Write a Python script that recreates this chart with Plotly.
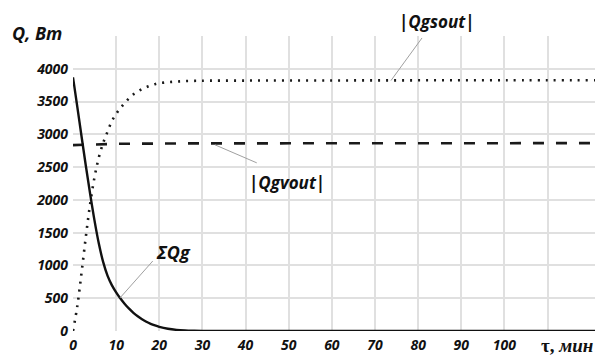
import plotly.graph_objects as go

# time, minutes
t = [0, 1, 2, 3, 4, 5, 6, 7, 8, 9, 10, 11, 12, 13, 14, 15, 16, 17, 18, 19, 20,
     22, 24, 26, 28, 30, 40, 60, 80, 100, 121]

# total heat flow ΣQg, W
sum_qg = [3870, 3420, 2960, 2510, 2080, 1680, 1330, 1050, 845, 700, 590, 495, 412,
          340, 278, 225, 180, 142, 110, 84, 63, 34, 17, 8, 3, 0, 0, 0, 0, 0, 0]

# |Qgsout|, W
qgsout = [0, 380, 900, 1450, 1950, 2350, 2650, 2870, 3040, 3200, 3310, 3400, 3480,
          3550, 3610, 3650, 3690, 3720, 3745, 3765, 3780, 3795, 3805, 3812, 3816,
          3818, 3820, 3822, 3824, 3825, 3826]

# |Qgvout|, W
qgvout = [2835, 2838, 2841, 2844, 2846, 2848, 2850, 2852, 2853, 2854, 2855, 2856, 2857,
          2858, 2858, 2859, 2859, 2860, 2860, 2860, 2861, 2861, 2861, 2862, 2862,
          2862, 2863, 2864, 2865, 2866, 2866]

x_ticks = [0, 10, 20, 30, 40, 50, 60, 70, 80, 90, 100, 110]
x_labels = ["0", "10", "20", "30", "40", "50", "60", "70", "80", "90", "100", ""]
y_ticks = [0, 500, 1000, 1500, 2000, 2500, 3000, 3500, 4000, 4500]
y_labels = ["0", "500", "1000", "1500", "2000", "2500", "3000", "3500", "4000", ""]

# leader lines: (x0, y0) on the curve, (x1, y1) towards the label
leaders = [
    (73.7, 3820, 80.9, 4470),
    (32.9, 2840, 42.6, 2565),
    (10.9, 505, 18.5, 1068),
]

fig = go.Figure()
fig.add_trace(go.Scatter(x=t, y=qgsout, mode="lines", line_shape="spline",
                         line=dict(color="#1a1a1a", width=2.6, dash="2px,6px")))
fig.add_trace(go.Scatter(x=t, y=qgvout, mode="lines",
                         line=dict(color="#1a1a1a", width=2.6, dash="11px,12px")))
fig.add_trace(go.Scatter(x=t, y=sum_qg, mode="lines", line_shape="spline",
                         line=dict(color="#111111", width=2.4)))

for x0, y0, x1, y1 in leaders:
    fig.add_shape(type="line", x0=x0, y0=y0, x1=x1, y1=y1, xref="x", yref="y",
                  line=dict(color="#a0a0a0", width=1))

lab_font = dict(family="Open Sans", size=17, color="#111111", style="italic", weight="bold")
fig.add_annotation(text="|Qgsout|", x=84.4, y=4500, xref="x", yref="y",
                   yanchor="bottom", yshift=1, showarrow=False, font=lab_font)
fig.add_annotation(text="|Qgvout|", x=49.5, y=2270, xref="x", yref="y",
                   showarrow=False, font=lab_font)
fig.add_annotation(text="ΣQg", x=23.2, y=1200, xref="x", yref="y",
                   showarrow=False, font=dict(lab_font, size=18))

fig.add_annotation(text="Q, Bm", x=-0.12, y=1.01, xref="paper", yref="paper",
                   xanchor="left", yanchor="middle", showarrow=False,
                   font=dict(family="Open Sans", size=18, color="#111111",
                             style="italic", weight="bold"))
fig.add_annotation(text="τ, <i>мин</i>", x=1.0, y=0, xref="paper", yref="paper",
                   xanchor="right", yanchor="top", yshift=-2, showarrow=False,
                   font=dict(family="Liberation Serif", size=19, color="#111111",
                             weight="bold"))

tick_font = dict(family="Open Sans", size=14, color="#111111", style="italic", weight="bold")
fig.update_xaxes(range=[0, 121], tickvals=x_ticks, ticktext=x_labels,
                 showgrid=True, gridcolor="#e0e0e0", gridwidth=1.5,
                 zeroline=False, showline=False, tickfont=tick_font, ticks="",
                 ticklabelstandoff=4)
fig.update_yaxes(range=[0, 4500], tickvals=y_ticks, ticktext=y_labels,
                 showgrid=True, gridcolor="#e0e0e0", gridwidth=1.5,
                 zeroline=False, showline=False, tickfont=tick_font, ticks="",
                 ticklabelstandoff=4)

fig.update_layout(width=597, height=358, margin=dict(l=73, r=2, t=36, b=27),
                  paper_bgcolor="white", plot_bgcolor="white", showlegend=False)

fig.write_html("out.html")
